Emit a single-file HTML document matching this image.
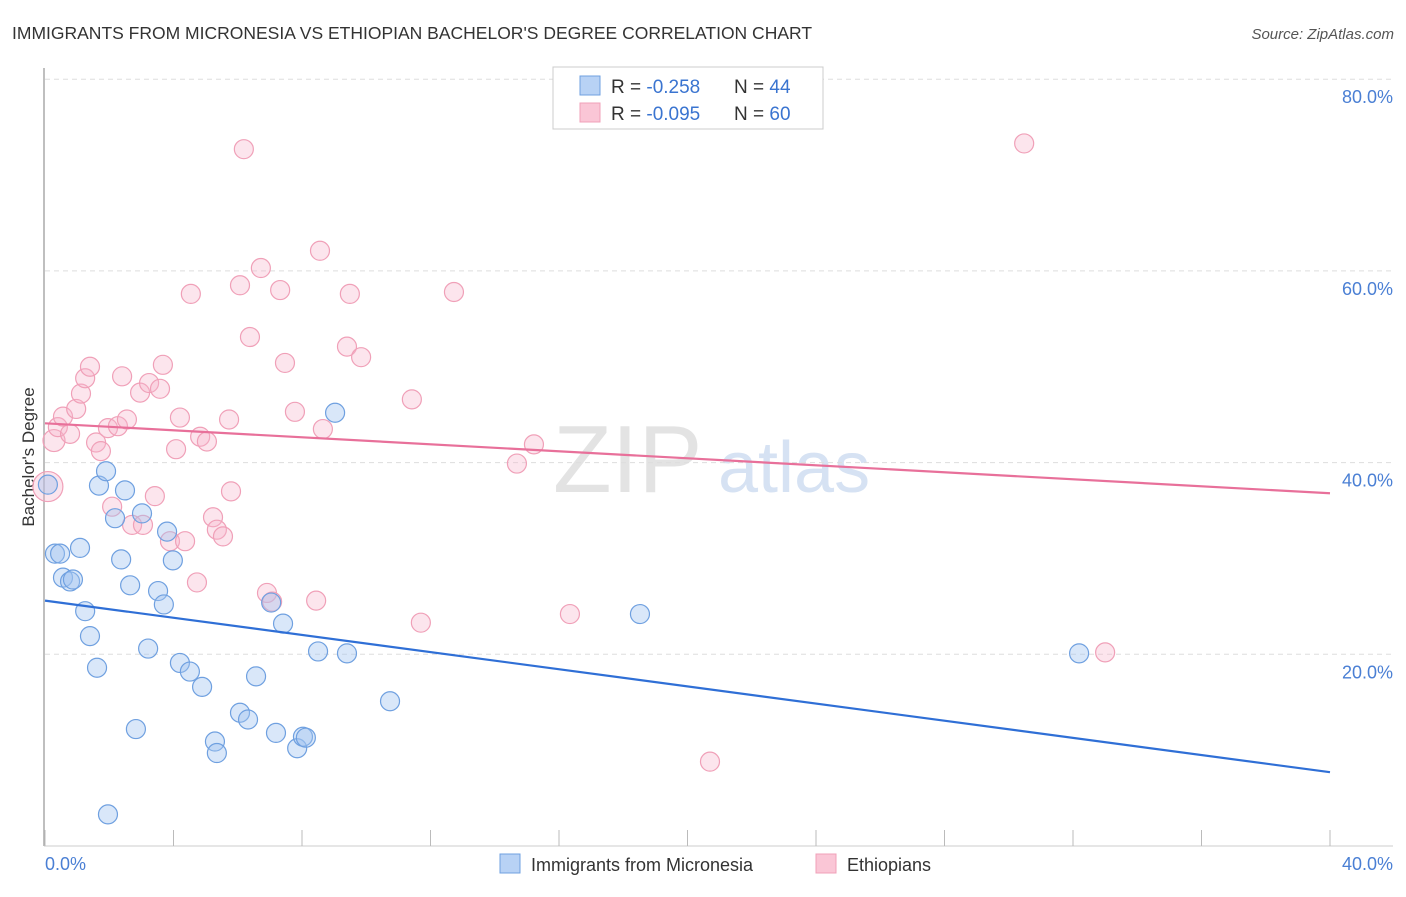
<!DOCTYPE html>
<html><head><meta charset="utf-8"><style>
body{margin:0;background:#fff;font-family:"Liberation Sans",sans-serif;}
svg text{font-family:"Liberation Sans",sans-serif;}
</style></head><body>
<svg id="chart" width="1406" height="892" xmlns="http://www.w3.org/2000/svg">
<text x="12" y="39" font-size="17.5" fill="#333">IMMIGRANTS FROM MICRONESIA VS ETHIOPIAN BACHELOR'S DEGREE CORRELATION CHART</text>
<text x="1394" y="39" font-size="15" fill="#555" text-anchor="end" font-style="italic">Source: ZipAtlas.com</text>
<g>
<text x="553" y="492" font-size="96" fill="#ddd" font-family="Liberation Serif" opacity="0.8">ZIP</text>
<text x="718" y="492" font-size="72" fill="#c5d6ee" opacity="0.7">atlas</text>
</g>
<g id="grid"></g>
<line x1="44" y1="68" x2="44" y2="846" stroke="#aaa" stroke-width="1.5"/>
<line x1="44" y1="846" x2="1393" y2="846" stroke="#ccc"/>
<g id="ticks"></g>
<text transform="translate(34,457) rotate(-90)" font-size="17" fill="#333" text-anchor="middle">Bachelor's Degree</text>
<text x="45" y="870" font-size="18" fill="#4a7fd4">0.0%</text>
<text x="1393" y="870" font-size="18" fill="#4a7fd4" text-anchor="end">40.0%</text>
<g id="pink"></g><g id="blue"></g><g id="lines"></g>
<g>
<rect x="553" y="67" width="270" height="62" fill="#fff" stroke="#ccc"/>
<rect x="580" y="76" width="20" height="19" fill="#b8d2f5" stroke="#6fa0e0"/>
<rect x="580" y="103" width="20" height="19" fill="#fac6d6" stroke="#f0a0b8"/>
<text x="611" y="93" font-size="19" fill="#333">R = <tspan fill="#3a74d0">-0.258</tspan><tspan x="734">N = </tspan><tspan fill="#3a74d0">44</tspan></text>
<text x="611" y="120" font-size="19" fill="#333">R = <tspan fill="#3a74d0">-0.095</tspan><tspan x="734">N = </tspan><tspan fill="#3a74d0">60</tspan></text>
</g>
<g>
<rect x="500" y="854" width="20" height="19" fill="#b8d2f5" stroke="#6fa0e0"/>
<text x="531" y="871" font-size="18" fill="#333">Immigrants from Micronesia</text>
<rect x="816" y="854" width="20" height="19" fill="#fac6d6" stroke="#f0a0b8"/>
<text x="847" y="871" font-size="18" fill="#333">Ethiopians</text>
</g>
</svg>
<script>
const yTicks=[20,40,60,80];
const yTickLabels=["20.0%","40.0%","60.0%","80.0%"];
const blueX=[0.09,0.31,0.47,0.56,0.78,0.87,1.09,1.25,1.40,1.62,1.68,1.90,2.18,2.37,2.49,2.65,2.83,3.02,3.21,3.52,3.70,3.80,3.98,4.20,4.51,4.89,5.29,5.35,6.07,6.32,6.57,7.04,7.19,7.41,7.85,8.03,8.12,8.50,9.03,9.40,10.74,18.52,32.19,1.96];
const blueY=[37.7,30.5,30.5,28.0,27.6,27.8,31.1,24.5,21.9,18.6,37.6,39.1,34.2,29.9,37.1,27.2,12.2,34.7,20.6,26.6,25.2,32.8,29.8,19.1,18.2,16.6,10.9,9.7,13.9,13.2,17.7,25.4,11.8,23.2,10.2,11.4,11.3,20.3,45.2,20.1,15.1,24.2,20.1,3.3];
const pinkX=[0.09,0.28,0.40,0.56,0.78,0.97,1.12,1.25,1.40,1.59,1.74,1.96,2.09,2.27,2.40,2.55,2.71,2.96,3.05,3.24,3.42,3.58,3.67,3.89,4.08,4.20,4.36,4.54,4.73,4.83,5.04,5.23,5.35,5.54,5.73,5.79,6.07,6.19,6.38,6.72,6.91,7.07,7.32,7.47,7.78,8.44,8.56,8.65,9.40,9.49,9.84,11.42,11.70,12.73,14.69,15.22,16.34,20.70,30.48,33.00];
const pinkY=[37.5,42.3,43.7,44.8,43.0,45.6,47.2,48.8,50.0,42.1,41.2,43.6,35.4,43.8,49.0,44.5,33.5,47.3,33.5,48.3,36.5,47.7,50.2,31.8,41.4,44.7,31.8,57.6,27.5,42.7,42.2,34.3,33.0,32.3,44.5,37.0,58.5,72.7,53.1,60.3,26.4,25.5,58.0,50.4,45.3,25.6,62.1,43.5,52.1,57.6,51.0,46.6,23.3,57.8,39.9,41.9,24.2,8.8,73.3,20.2];
const blueTrend=[25.6,7.7];
const pinkTrend=[44.1,36.8];
const NS="http://www.w3.org/2000/svg";
const xS=v=>45+v/40*1285;
const yS=v=>846-v/20*191.7;
function mk(t,a,p){const e=document.createElementNS(NS,t);for(const k in a)e.setAttribute(k,a[k]);p.appendChild(e);return e;}
const grid=document.getElementById('grid');
yTicks.forEach((t,i)=>{
 const l=mk('line',{x1:45,x2:1393,y1:yS(t),y2:yS(t),stroke:'#ddd','stroke-dasharray':'5,4'},grid);
 
 
 const tx=mk('text',{x:1393,y:yS(t)+24,'font-size':18,fill:'#4a7fd4','text-anchor':'end'},grid);
 tx.textContent=yTickLabels[i];
 
 
});
const ticks=document.getElementById('ticks');
for(let i=0;i<=10;i++){
 const l=mk('line',{x1:xS(i*4),x2:xS(i*4),y1:830,y2:846,stroke:'#bbb'},ticks);
 
 
}
const pg=document.getElementById('pink');
pinkX.forEach((x,i)=>{
 const c=mk('circle',{cx:xS(x),cy:yS(pinkY[i]),r:i===0?15:(i===1?11:9.5),fill:'rgba(247,180,202,0.35)',stroke:'#f0a0b8','stroke-width':1.2},pg);
 
 
});
const bg=document.getElementById('blue');
blueX.forEach((x,i)=>{
 const c=mk('circle',{cx:xS(x),cy:yS(blueY[i]),r:9.5,fill:'rgba(160,195,240,0.4)',stroke:'#6fa0e0','stroke-width':1.2},bg);
 
 
});
const lg=document.getElementById('lines');
const pl=mk('line',{x1:xS(0),y1:yS(pinkTrend[0]),x2:xS(40),y2:yS(pinkTrend[1]),stroke:'#e8709a','stroke-width':2.2},lg);


const bl=mk('line',{x1:xS(0),y1:yS(blueTrend[0]),x2:xS(40),y2:yS(blueTrend[1]),stroke:'#2f6fd6','stroke-width':2.2},lg);


</script>
</body></html>
